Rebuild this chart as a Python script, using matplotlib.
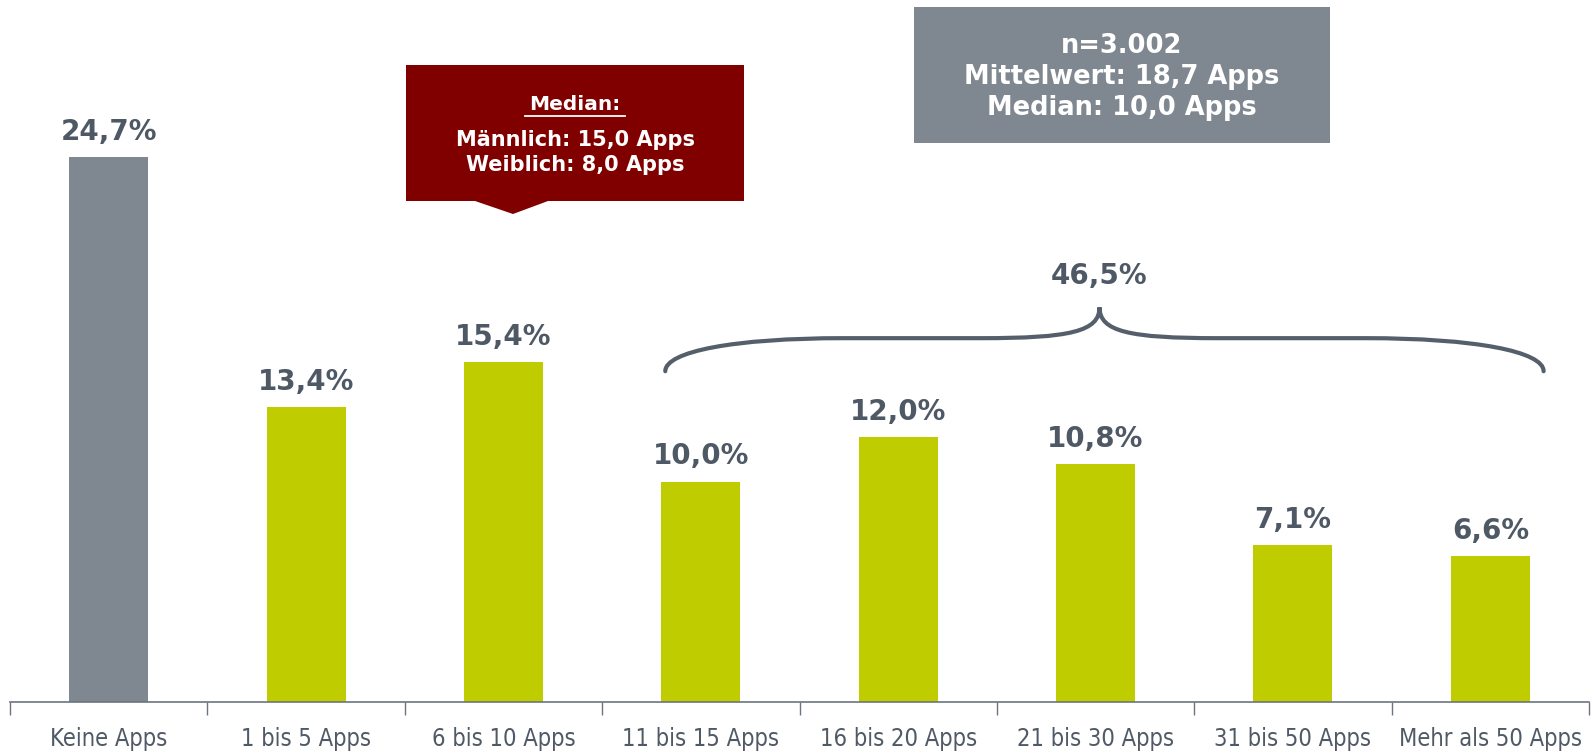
import matplotlib.pyplot as plt
from matplotlib.patches import Polygon, Rectangle, PathPatch
from matplotlib.path import Path
import numpy as np

categories = ['Keine Apps', '1 bis 5 Apps', '6 bis 10 Apps', '11 bis 15 Apps',
              '16 bis 20 Apps', '21 bis 30 Apps', '31 bis 50 Apps', 'Mehr als 50 Apps']
values = [24.7, 13.4, 15.4, 10.0, 12.0, 10.8, 7.1, 6.6]
labels = ['24,7%', '13,4%', '15,4%', '10,0%', '12,0%', '10,8%', '7,1%', '6,6%']
bracket_label = '46,5%'
median_lines = ['Männlich: 15,0 Apps', 'Weiblich: 8,0 Apps']
info_lines = ['n=3.002', 'Mittelwert: 18,7 Apps', 'Median: 10,0 Apps']

W, H = 1592, 753
grey = '#7f8790'
green = '#bfcc00'
darkred = '#800000'
txt = '#4f5966'

plt.rcParams['font.family'] = ['DejaVu Sans']
fig = plt.figure(figsize=(W / 100, H / 100), dpi=100)

# axes: x 10..1589 px, y axis line at 702 px from top
ax = fig.add_axes([10 / W, (H - 702) / H, 1579 / W, 702 / H])
x = np.arange(len(categories))
colors = [grey] + [green] * (len(categories) - 1)
ax.bar(x, values, width=0.4, color=colors)
ax.set_xlim(-0.5, len(categories) - 0.5)
ax.set_ylim(0, 702 / 22.05)

for xi, v, l in zip(x, values, labels):
    ax.text(xi, v + 0.5, l, ha='center', va='bottom', fontsize=20,
            fontweight='bold', color=txt)

for s in ['top', 'right', 'left']:
    ax.spines[s].set_visible(False)
ax.spines['bottom'].set_color('#6b7480')
ax.spines['bottom'].set_linewidth(1.2)
ax.set_yticks([])
ax.set_xticks(x)
ax.set_xticklabels(categories, fontsize=17, color='#505a66',
                   family=['DejaVu Sans'], fontstretch='condensed')
ax.tick_params(axis='x', length=0, pad=18)
ax.set_xticks(np.arange(-0.5, len(categories)), minor=True)
ax.tick_params(axis='x', which='minor', length=9, color='#6b7480', width=1)

# brace over categories 3..7
x0, x1, xm = 2.82, 7.27, 5.02
yb, yf, yt = 15.0, 16.5, 17.9
verts = [(x0, yb), (x0, yf - 0.6), (x0 + 0.35, yf), (x0 + 0.9, yf),
         (xm - 0.6, yf),
         (xm - 0.15, yf), (xm, yf + 0.3), (xm, yt),
         (xm, yf + 0.3), (xm + 0.15, yf), (xm + 0.6, yf),
         (x1 - 0.9, yf),
         (x1 - 0.35, yf), (x1, yf - 0.6), (x1, yb)]
codes = [Path.MOVETO, Path.CURVE4, Path.CURVE4, Path.CURVE4,
         Path.LINETO,
         Path.CURVE4, Path.CURVE4, Path.CURVE4,
         Path.CURVE4, Path.CURVE4, Path.CURVE4,
         Path.LINETO,
         Path.CURVE4, Path.CURVE4, Path.CURVE4]
ax.add_patch(PathPatch(Path(verts, codes), fill=False, edgecolor='#555f6b',
                       lw=3, capstyle='round', clip_on=False))
ax.text(xm, 19.3, bracket_label, ha='center', va='center', fontsize=20,
        fontweight='bold', color=txt)


def fpx(px, py):
    return (px / W, 1 - py / H)


# median callout box
poly = [fpx(406, 65), fpx(744, 65), fpx(744, 201), fpx(548, 201),
        fpx(513, 214), fpx(475, 201), fpx(406, 201)]
fig.add_artist(Polygon(poly, closed=True, facecolor=darkred, edgecolor='none',
                       transform=fig.transFigure))
cx = 575 / W
fig.text(cx, 1 - 104 / H, 'Median:', ha='center', va='center', fontsize=14.5,
         fontweight='bold', color='white')
fig.add_artist(plt.Line2D([525 / W, 625 / W], [1 - 116 / H, 1 - 116 / H],
                          color='white', lw=1.3, transform=fig.transFigure))
for i, line in enumerate(median_lines):
    fig.text(cx, 1 - (140 + 25 * i) / H, line, ha='center', va='center',
             fontsize=15, fontweight='bold', color='white')

# info box
fig.add_artist(Rectangle(fpx(914, 143), 416 / W, 136 / H, facecolor=grey,
                         edgecolor='none', transform=fig.transFigure))
for i, line in enumerate(info_lines):
    fig.text(1122 / W, 1 - (46 + 31 * i) / H, line, ha='center', va='center',
             fontsize=18.5, fontweight='bold', color='white')

fig.savefig('out.png', dpi=100)
